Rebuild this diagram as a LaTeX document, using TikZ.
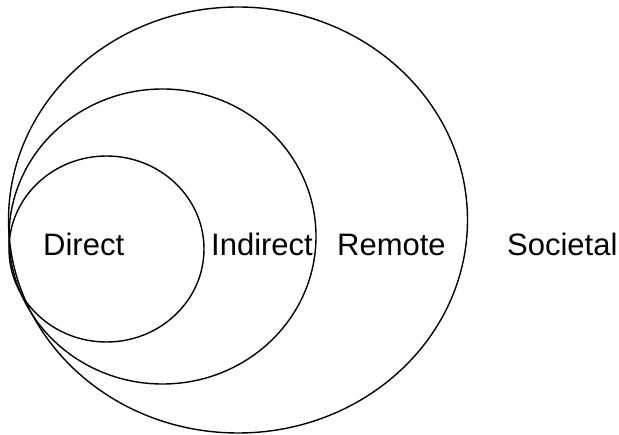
\documentclass[tikz,border=0pt]{standalone}
\usepackage{fontspec}
\setmainfont{Liberation Sans}
\tikzset{
  ring/.style={draw=black, line width=1.4pt},
  lbl/.style={anchor=base west, inner sep=0pt, font=\fontsize{31}{37}\selectfont}
}
\begin{document}
\begin{tikzpicture}[x=1pt,y=-1pt]
\useasboundingbox (0,0) rectangle (619,435);
\draw[ring] (238,220) ellipse [x radius=229.5, y radius=213];
\draw[ring] (162.5,236.5) ellipse [x radius=153.5, y radius=147.5];
\draw[ring] (106.5,249) ellipse [x radius=97.5, y radius=93];
\node[lbl] (direct) at (43,256) {Direct};
\node[lbl] (indirect) at (211,256) {Indirect};
\node[lbl] (remote) at (337,256) {Remote};
\node[lbl] (societal) at (507,256) {Societal};
\end{tikzpicture}
\end{document}
